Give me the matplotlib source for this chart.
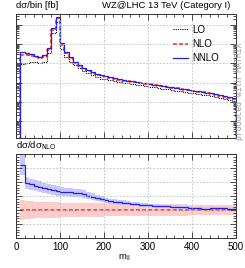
import numpy as np
import matplotlib
matplotlib.use("Agg")
import matplotlib.pyplot as plt
from matplotlib.ticker import MultipleLocator, LogLocator, NullFormatter

plt.rcParams['font.family'] = ['Liberation Sans', 'DejaVu Sans']

# bin edges in m_ll [GeV]
edges = np.arange(10, 501, 10)

# dsigma/bin [fb]
lo = [0.0873, 0.1067, 0.1155, 0.1155, 0.1067, 0.1110, 0.327, 3.59, 14.56, 0.527,
      0.219, 0.120, 0.0805, 0.0540, 0.0393, 0.0297, 0.0233, 0.0191, 0.0156, 0.0150,
      0.0133, 0.0118, 0.0109, 0.00969, 0.00894, 0.00826, 0.00762, 0.00703, 0.00649, 0.00600,
      0.00553, 0.00511, 0.00472, 0.00435, 0.00402, 0.00371, 0.00343, 0.00316, 0.00292, 0.00270,
      0.00249, 0.00230, 0.00212, 0.00196, 0.00181, 0.00160, 0.00142, 0.00126, 0.00112]
nnlo = [0.368, 0.327, 0.290, 0.247, 0.210, 0.257, 0.594, 6.55, 24.5, 1.08,
        0.368, 0.202, 0.120, 0.0805, 0.0585, 0.0442, 0.0348, 0.0285, 0.0233, 0.0207,
        0.0184, 0.0163, 0.0150, 0.0133, 0.0123, 0.0114, 0.0105, 0.00969, 0.00894, 0.00826,
        0.00762, 0.00703, 0.00649, 0.00600, 0.00553, 0.00511, 0.00472, 0.00435, 0.00402, 0.00371,
        0.00343, 0.00316, 0.00292, 0.00270, 0.00239, 0.00212, 0.00188, 0.00167, 0.00148]

# NNLO/NLO ratio and scale-band half widths (ratio units)
k_nnlo = [1.321, 1.195, 1.183, 1.174, 1.167, 1.160, 1.150, 1.143, 1.136, 1.131,
          1.129, 1.126, 1.121, 1.119, 1.112, 1.102, 1.095, 1.088, 1.079, 1.069,
          1.064, 1.060, 1.055, 1.052, 1.048, 1.043, 1.040, 1.038, 1.036, 1.033,
          1.031, 1.029, 1.026, 1.026, 1.024, 1.021, 1.019, 1.019, 1.017, 1.014,
          1.012, 1.010, 1.010, 1.014, 1.014, 1.012, 1.012, 1.010, 1.010]
err_nnlo = [0.070, 0.042, 0.040, 0.038, 0.037, 0.036, 0.035, 0.034, 0.033, 0.032,
            0.031, 0.030, 0.030, 0.029, 0.028, 0.026, 0.024, 0.022, 0.020, 0.019,
            0.018, 0.017, 0.016, 0.016, 0.015, 0.015, 0.014, 0.014, 0.014, 0.013,
            0.013, 0.013, 0.013, 0.012, 0.012, 0.012, 0.012, 0.012, 0.011, 0.011,
            0.011, 0.011, 0.011, 0.011, 0.010, 0.010, 0.010, 0.010, 0.010]
err_nlo = [0.070, 0.065, 0.062, 0.060, 0.058, 0.057, 0.056, 0.055, 0.054, 0.053,
           0.052, 0.051, 0.050, 0.050, 0.049, 0.048, 0.048, 0.047, 0.047, 0.046,
           0.046, 0.045, 0.045, 0.044, 0.044, 0.044, 0.043, 0.043, 0.043, 0.042,
           0.042, 0.042, 0.041, 0.041, 0.041, 0.040, 0.040, 0.040, 0.039, 0.039,
           0.039, 0.038, 0.038, 0.038, 0.037, 0.037, 0.037, 0.036, 0.036]

lo = np.array(lo)
nnlo = np.array(nnlo)
k_nnlo = np.array(k_nnlo)
err_nnlo = np.array(err_nnlo)
err_nlo = np.array(err_nlo)
nlo = nnlo / k_nnlo

c_lo = 'black'
c_nlo = '#ff2020'
c_nnlo = '#2020e8'

fig = plt.figure(figsize=(2.45, 2.68), dpi=100)
ax = fig.add_axes([0.0653, 0.4851, 0.8977, 0.4627])
axr = fig.add_axes([0.0653, 0.1119, 0.8977, 0.3135])

base = 1e-6
# main panel
ax.stairs(nlo * (1 + err_nlo), edges, baseline=nlo * (1 - err_nlo), fill=True,
          color='#ffcccc', lw=0)
ax.stairs(nlo * (k_nnlo + err_nnlo), edges, baseline=nlo * (k_nnlo - err_nnlo),
          fill=True, color='#c8c8ff', lw=0)
ax.stairs(lo, edges, baseline=base, color=c_lo, lw=0.8, ls=(0, (1, 1)), label='LO')
ax.stairs(nlo, edges, baseline=base, color=c_nlo, lw=1.1, ls=(0, (2.5, 1.5)), label='NLO')
ax.stairs(nnlo, edges, baseline=base, color=c_nnlo, lw=0.9, label='NNLO')

ax.set_yscale('log')
ax.set_xlim(0, 500)
ax.set_ylim(1.3e-5, 37)
ax.yaxis.set_major_locator(LogLocator(base=10, numticks=20))
ax.yaxis.set_minor_locator(LogLocator(base=10, subs=np.arange(2, 10), numticks=20))
ax.yaxis.set_minor_formatter(NullFormatter())

# ratio panel
axr.stairs(1 + err_nlo, edges, baseline=1 - err_nlo, fill=True, color='#ffcccc', lw=0)
axr.stairs(k_nnlo + err_nnlo, edges, baseline=k_nnlo - err_nnlo, fill=True,
           color='#c8c8ff', lw=0)
axr.stairs(nlo / nlo, edges, baseline=None, color=c_nlo, lw=1.1, ls=(0, (2.5, 1.5)))
axr.stairs(k_nnlo, edges, baseline=None, color=c_nnlo, lw=0.9)
axr.set_xlim(0, 500)
axr.set_ylim(0.8, 1.4)
axr.yaxis.set_major_locator(MultipleLocator(0.1))
axr.yaxis.set_minor_locator(MultipleLocator(0.02))

for a in (ax, axr):
    a.xaxis.set_major_locator(MultipleLocator(100))
    a.xaxis.set_minor_locator(MultipleLocator(20))
    a.tick_params(which='both', direction='in', top=True, right=True,
                  labelleft=False, width=0.6, color='#333333')
    a.tick_params(which='major', length=4)
    a.tick_params(which='minor', length=2)
    a.grid(True, which='major', ls=(0, (2, 2)), color='#bbbbbb', lw=0.6)
    for s in a.spines.values():
        s.set_linewidth(0.7)
        s.set_color('#333333')

ax.tick_params(labelbottom=False)
axr.tick_params(axis='x', labelsize=7, pad=3)

ax.legend(loc='upper right', frameon=False, fontsize=7, handlelength=1.6,
          handletextpad=0.4, labelspacing=0.45, bbox_to_anchor=(0.963, 0.985))

fig.text(0.0653, 0.962, 'dσ/bin [fb]', fontsize=6.8, ha='left', va='bottom')
fig.text(0.942, 0.962, 'WZ@LHC 13 TeV (Category I)', fontsize=6.8, ha='right', va='bottom')
fig.text(0.0653, 0.432, r'dσ/dσ$_{\mathrm{NLO}}$', fontsize=6.8, ha='left', va='bottom')
fig.text(0.51, 0.037, r'm$_{\mathrm{ll}}$', fontsize=6.8, ha='center', va='center')
fig.text(0.978, 0.66, 'produced with MATRIX', fontsize=5.9, rotation=90,
         family='DejaVu Sans Mono', color='#a898a8', ha='center', va='center')

fig.savefig('out.png', dpi=100)
